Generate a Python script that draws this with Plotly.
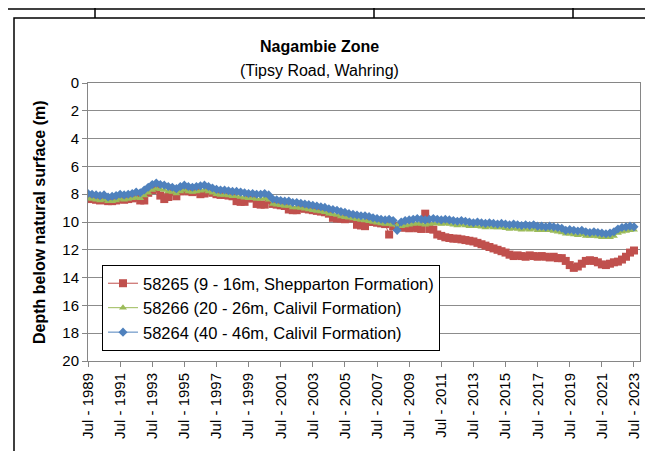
import pandas as pd
import plotly.graph_objects as go

# quarterly readings, Jul 1989 .. Jul 2023
dates = pd.date_range("1989-07-01", "2023-07-01", freq="3MS")

bore_58265 = [
    8.3, 8.35,
    8.4, 8.45, 8.4, 8.5,
    8.5, 8.45, 8.35, 8.4,
    8.35, 8.3, 8.25, 8.45,
    8.45, 7.9, 7.7, 7.6,
    8.1, 8.35, 8.2, 7.85,
    8.15, 7.8, 7.7, 7.8,
    7.85, 7.8, 8.0, 7.95,
    7.8, 7.9, 8.0, 8.05,
    8.05, 8.1, 8.15, 8.5,
    8.55, 8.55, 8.3, 8.3,
    8.7, 8.75, 8.75, 8.4,
    8.7, 8.75, 8.8, 8.85,
    9.1, 9.15, 9.15, 9.0,
    9.05, 9.1, 9.15, 9.2,
    9.25, 9.3, 9.4, 9.7,
    9.75, 9.75, 9.8, 9.7,
    9.75, 10.2, 10.25, 10.3,
    9.95, 10.0, 10.05, 10.1,
    10.15, 10.9, 10.3, 10.35,
    10.4, 10.4, 10.45, 10.4,
    10.45, 10.5, 9.4, 10.5,
    10.55, 10.9, 11.0, 11.1,
    11.15, 11.2, 11.2, 11.25,
    11.3, 11.35, 11.4, 11.5,
    11.6, 11.7, 11.8, 11.9,
    12.0, 12.1, 12.2, 12.35,
    12.45, 12.4, 12.45, 12.5,
    12.4, 12.45, 12.5, 12.45,
    12.5, 12.55, 12.5, 12.6,
    12.6, 12.8, 13.1, 13.3,
    13.2, 13.0, 12.8, 12.75,
    12.8, 12.9, 13.05, 13.1,
    13.0, 12.9, 12.85, 12.7,
    12.5, 12.2, 12.05,
]

bore_58266 = [
    8.3, 8.35,
    8.4, 8.45, 8.4, 8.5,
    8.5, 8.45, 8.35, 8.4,
    8.35, 8.3, 8.25, 8.3,
    8.1, 7.9, 7.7, 7.6,
    7.65, 7.7, 7.8, 7.85,
    7.95, 7.8, 7.7, 7.8,
    7.85, 7.8, 7.75, 7.7,
    7.8, 7.9, 8.0, 8.05,
    8.05, 8.1, 8.15, 8.15,
    8.2, 8.25, 8.3, 8.3,
    8.35, 8.35, 8.3, 8.4,
    8.7, 8.75, 8.8, 8.85,
    8.85, 8.95, 8.95, 9.0,
    9.05, 9.1, 9.15, 9.2,
    9.25, 9.3, 9.4, 9.45,
    9.5, 9.6, 9.65, 9.7,
    9.75, 9.8, 9.85, 9.9,
    9.95, 10.0, 10.05, 10.1,
    10.15, 10.15, 10.2, 10.25,
    10.3, 10.25, 10.2, 10.15,
    10.1, 10.15, 10.2, 10.15,
    10.1, 10.1, 10.15, 10.1,
    10.15, 10.2, 10.25, 10.2,
    10.25, 10.3, 10.3, 10.3,
    10.35, 10.4, 10.35, 10.4,
    10.4, 10.4, 10.45, 10.5,
    10.45, 10.5, 10.55, 10.5,
    10.55, 10.5, 10.6, 10.6,
    10.6, 10.6, 10.65, 10.7,
    10.75, 10.85, 10.85, 10.9,
    10.95, 10.9, 11.0, 11.0,
    11.0, 11.05, 11.1, 11.1,
    11.1, 11.0, 10.8, 10.7,
    10.65, 10.6, 10.55,
]

bore_58264 = [
    7.95, 8.0,
    8.05, 8.1, 8.05, 8.2,
    8.15, 8.1, 8.0, 8.05,
    8.0, 7.95, 7.85, 7.9,
    7.7, 7.5, 7.3, 7.2,
    7.3, 7.35, 7.45, 7.5,
    7.6, 7.45, 7.35, 7.45,
    7.5, 7.45, 7.4, 7.35,
    7.45, 7.55, 7.65, 7.7,
    7.7, 7.75, 7.8, 7.8,
    7.85, 7.9, 7.95, 7.95,
    8.0, 8.0, 7.95, 8.05,
    8.35, 8.4, 8.45, 8.5,
    8.5, 8.6, 8.6, 8.65,
    8.7, 8.75, 8.8, 8.85,
    8.9, 8.95, 9.05, 9.1,
    9.15, 9.25, 9.3, 9.4,
    9.45, 9.5, 9.55, 9.55,
    9.6, 9.7, 9.75, 9.8,
    9.85, 9.8, 9.9, 10.6,
    10.0, 9.9, 9.85, 9.8,
    9.75, 9.8, 9.85, 9.8,
    9.75, 9.8, 9.85, 9.8,
    9.85, 9.9, 9.95, 9.9,
    9.95, 10.0, 10.05, 10.0,
    10.05, 10.1, 10.05, 10.1,
    10.15, 10.1, 10.15, 10.2,
    10.15, 10.2, 10.25, 10.2,
    10.25, 10.2, 10.3, 10.3,
    10.35, 10.3, 10.35, 10.4,
    10.45, 10.6, 10.55, 10.6,
    10.65, 10.6, 10.7, 10.75,
    10.7, 10.75, 10.8, 10.85,
    10.8, 10.7, 10.5, 10.4,
    10.35, 10.3, 10.35,
]

series_names = [
    "58265 (9 - 16m, Shepparton Formation)",
    "58266 (20 - 26m, Calivil Formation)",
    "58264 (40 - 46m, Calivil Formation)",
]

tick_years = list(range(1989, 2024, 2))
tick_vals = [f"{y}-07-01" for y in tick_years]
tick_text = [f"Jul - {y}" for y in tick_years]
y_ticks = list(range(0, 21, 2))

W, H = 653, 451
L, R, T, B = 80, 632, 75, 353
PW, PH = R - L, B - T


def px(x):
    return (x - L) / PW


def py(y):
    return (B - y) / PH


FONT = "Liberation Sans, Arial, sans-serif"

styles = [
    dict(color="#C0504D", symbol="square", size=8),
    dict(color="#9BBB59", symbol="triangle-up", size=7),
    dict(color="#4F81BD", symbol="diamond", size=7),
]

fig = go.Figure()
for name, vals, st in zip(series_names, [bore_58265, bore_58266, bore_58264], styles):
    fig.add_trace(go.Scatter(
        x=dates, y=vals, name=name, mode="lines+markers",
        line=dict(color=st["color"], width=1),
        marker=dict(symbol=st["symbol"], size=st["size"], color=st["color"],
                    line=dict(width=0)),
    ))

fig.update_layout(
    width=W, height=H,
    margin=dict(l=L, r=W - R, t=T, b=H - B),
    paper_bgcolor="white", plot_bgcolor="white",
    font=dict(family=FONT, size=15, color="black"),
    showlegend=True,
    legend=dict(
        x=px(94), y=py(257), xanchor="left", yanchor="top",
        bgcolor="white", bordercolor="black", borderwidth=1,
        font=dict(family=FONT, size=16.5, color="black"),
        tracegroupgap=0,
    ),
    xaxis=dict(
        type="date",
        range=["1989-07-01", "2023-11-15"],
        tickmode="array", tickvals=tick_vals, ticktext=tick_text,
        tickangle=-90,
        ticks="outside", ticklen=5, tickcolor="#868686",
        showline=True, linecolor="#868686", linewidth=1, mirror=True,
        showgrid=False, zeroline=False,
        tickfont=dict(family=FONT, size=15, color="black"),
    ),
    yaxis=dict(
        range=[20, 0],
        tickmode="array", tickvals=y_ticks,
        ticks="outside", ticklen=5, tickcolor="#868686",
        showline=True, linecolor="#868686", linewidth=1, mirror=True,
        showgrid=True, gridcolor="#8c8c8c", gridwidth=1, zeroline=False,
        tickfont=dict(family=FONT, size=15, color="black"),
    ),
    annotations=[
        dict(text="<b>Nagambie Zone</b>", x=px(311), y=py(39), xref="paper", yref="paper",
             xanchor="center", yanchor="middle", showarrow=False,
             font=dict(family=FONT, size=16, color="black")),
        dict(text="(Tipsy Road, Wahring)", x=px(311), y=py(62), xref="paper", yref="paper",
             xanchor="center", yanchor="middle", showarrow=False,
             font=dict(family=FONT, size=16, color="black")),
        dict(text="<b>Depth below natural surface (m)</b>", x=px(31), y=py(214),
             xref="paper", yref="paper", xanchor="center", yanchor="middle",
             textangle=-90, showarrow=False,
             font=dict(family=FONT, size=16, color="black")),
    ],
    shapes=[
        dict(type="rect", xref="paper", yref="paper",
             x0=px(6), x1=px(665), y0=py(449), y1=py(10),
             line=dict(color="black", width=1.5), layer="below"),
        dict(type="line", xref="paper", yref="paper",
             x0=px(0), x1=px(653), y0=py(1), y1=py(1),
             line=dict(color="black", width=1.5)),
        dict(type="line", xref="paper", yref="paper",
             x0=px(87), x1=px(87), y0=py(0), y1=py(10),
             line=dict(color="black", width=1.5)),
        dict(type="line", xref="paper", yref="paper",
             x0=px(366), x1=px(366), y0=py(0), y1=py(10),
             line=dict(color="black", width=1.5)),
        dict(type="line", xref="paper", yref="paper",
             x0=px(565), x1=px(565), y0=py(0), y1=py(10),
             line=dict(color="black", width=1.5)),
    ],
)

fig.write_html("out.html")
